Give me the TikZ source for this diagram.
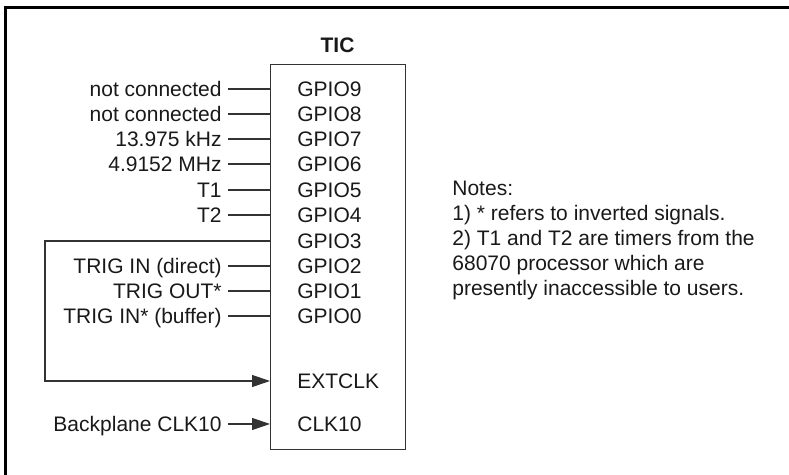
\documentclass[tikz,border=0pt]{standalone}
\usepackage{fontspec}
\setmainfont{Liberation Sans}
\usetikzlibrary{arrows.meta}
\tikzset{
  wire/.style={draw=black!80, line width=0.6pt},
  clkarrow/.style={wire, -{Triangle[length=9pt,width=6pt]}},
  pin/.style={anchor=west, inner sep=0pt, text height=7.5pt, text depth=0pt},
  sig/.style={anchor=east, inner xsep=3pt, inner ysep=0pt, text height=7.5pt, text depth=0pt},
}

\begin{document}
\begin{tikzpicture}[x=0.5pt,y=-0.5pt,font=\fontsize{10.5}{12.5}\selectfont,text=black!90]
\useasboundingbox (0,0) rectangle (789,475);
% frame
\draw[line width=1.1pt] (5.5,475) -- (5.5,7.5) -- (789,7.5);

% TIC block
\node[wire, inner sep=0pt, minimum width=67.5pt, minimum height=192.5pt, anchor=north west] (tic) at (270,64) {};
\node[font=\fontsize{10.5}{12.5}\selectfont\bfseries] (title) at (337.5,45) {TIC};

% pins
\foreach \i/\y in {9/89,8/114,7/139,6/164,5/190,4/215,3/241,2/266,1/291,0/316}
  \node[pin] (g\i) at (297,\y) {GPIO\i};
\node[pin] (ext) at (297,381) {EXTCLK};
\node[pin] (clk) at (297,424) {CLK10};

% signals
\foreach \i/\txt in {9/not connected,8/not connected,7/13.975 kHz,6/4.9152 MHz,5/T1,4/T2,2/TRIG IN (direct),1/TRIG OUT*,0/TRIG IN* (buffer)}{
  \node[sig] (s\i) at (g\i -| 228,0) {\txt};
  \draw[wire] (s\i.east) -- (s\i -| tic.west);
}
\node[sig] (sclk) at (clk -| 228,0) {Backplane CLK10};
\draw[clkarrow] (sclk.east) -- (sclk -| tic.west);

% GPIO3 loop back to EXTCLK
\draw[clkarrow] (g3 -| tic.west) -- (g3 -| 45,0) |- (ext -| tic.west);

% notes
\node[anchor=north west, align=left, inner sep=0pt] (notes) at (452,181)
  {Notes:\\1) * refers to inverted signals.\\2) T1 and T2 are timers from the\\68070 processor which are\\presently inaccessible to users.};
\end{tikzpicture}
\end{document}
